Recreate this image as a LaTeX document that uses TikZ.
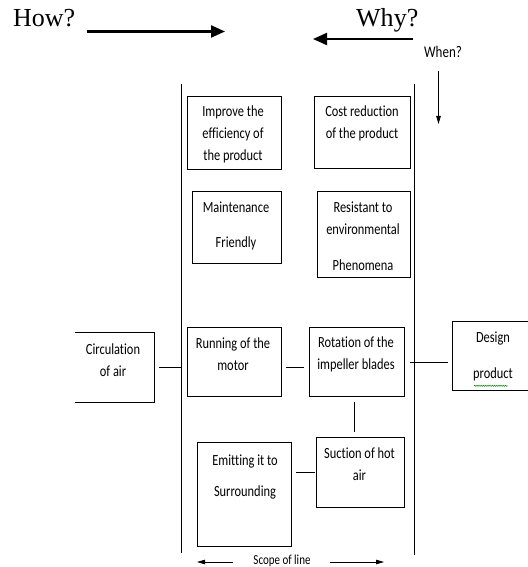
\documentclass[tikz,border=0pt]{standalone}
\usepackage{fontspec}
\usepackage{graphicx}
\setmainfont{Liberation Serif}
\newfontfamily\calfont[Ligatures=NoCommon]{Carlito}
\usetikzlibrary{arrows.meta,decorations.pathmorphing}
\newcommand{\stx}[1]{\scalebox{1}[1.25]{#1}}
\begin{document}
\begin{tikzpicture}[x=1pt,y=-1pt,
  box/.style={draw, line width=0.8pt, inner sep=0, rectangle},
  openbox/.style={inner sep=0, rectangle},
  txt/.style={font=\calfont\fontsize{12.4}{22}\selectfont, align=center, inner sep=0},
  big/.style={font=\fontsize{26}{30}\selectfont, inner sep=0},
  link/.style={line width=0.8pt},
  bigarrow/.style={line width=2.2pt, -{Triangle[length=14pt,width=12pt]}},
  smallarrow/.style={line width=0.8pt, -{Triangle[length=8pt,width=4.5pt]}}]
\useasboundingbox (0,0) rectangle (527,567);
\fill[white] (0,0) rectangle (527,567);

% header
\node[big, anchor=base west] (how) at (13,27) {How?};
\node[big, anchor=base west] (why) at (356,27) {Why?};
\node[txt, font=\calfont\fontsize{13}{15}\selectfont] (when) at (443,52) {\stx{When?}};
\coordinate (ha1) at (87,31.5);
\coordinate (ha2) at (225,31.5);
\coordinate (wa1) at (413,39);
\coordinate (wa2) at (313,39);
\coordinate (wh1) at (438.5,71);
\coordinate (wh2) at (438.5,124);
\draw[bigarrow] (ha1) -- (ha2);
\draw[bigarrow] (wa1) -- (wa2);
\draw[smallarrow] (wh1) -- (wh2);

% scope lines
\coordinate (L1) at (181,84);
\coordinate (L2) at (181,553);
\coordinate (R1) at (414,84);
\coordinate (R2) at (414,555);
\draw[link] (L1) -- (L2);
\draw[link] (R1) -- (R2);

% boxes
\node[box, minimum width=94, minimum height=73] (imp) at (234,132.5) {};
\node[txt] at (233,134) {\stx{Improve the}\\\stx{efficiency of}\\\stx{the product}};
\node[box, minimum width=96, minimum height=72] (cost) at (362,132) {};
\node[txt] at (362,123) {\stx{Cost reduction}\\\stx{of the product}};
\node[box, minimum width=89, minimum height=72] (maint) at (236.5,227) {};
\node[txt] at (236,225.5) {\stx{Maintenance}\\[13pt]\stx{Friendly}};
\node[box, minimum width=93, minimum height=86] (res) at (363.5,234) {};
\node[txt] at (363,236.5) {\stx{Resistant to}\\\stx{environmental}\\[14pt]\stx{Phenomena}};

\node[openbox, minimum width=79, minimum height=69] (circ) at (114.5,367.5) {};
\draw[link] (circ.north west) -- (circ.north east) -- (circ.south east) -- (circ.south west);
\node[txt] at (113,360) {\stx{Circulation}\\\stx{of air}};

\node[box, minimum width=94, minimum height=69] (run) at (234,361.5) {};
\node[txt] at (233,354) {\stx{Running of the}\\\stx{motor}};
\node[box, minimum width=95, minimum height=69] (rot) at (356.5,361.5) {};
\node[txt] at (356,354) {\stx{Rotation of the}\\\stx{impeller blades}};

\node[openbox, minimum width=77, minimum height=68] (des) at (491.5,356) {};
\draw[link] (des.north east) -- (des.north west) -- (des.south west) -- (des.south east);
\node[txt] (destxt) at (493,356) {\stx{Design}\\[14pt]\stx{product}};
\draw[green!55!black, line width=0.5pt, decorate, decoration={snake, amplitude=0.6pt, segment length=2.2pt}]
  ([xshift=-19pt,yshift=-5pt]destxt.south) -- ([xshift=15pt,yshift=-5pt]destxt.south);

\node[box, minimum width=94, minimum height=104] (emit) at (244,494) {};
\node[txt] at (245,476.5) {\stx{Emitting it to}\\[9pt]\stx{Surrounding}};
\node[box, minimum width=88, minimum height=70] (suc) at (360,472) {};
\node[txt] at (359.5,464.5) {\stx{Suction of hot}\\\stx{air}};

% connectors
\coordinate (cL) at (181,367);
\draw[link, shorten <=5pt] (circ.east |- cL) -- (cL);
\draw[link, shorten <=5pt, shorten >=5pt] (run.east |- 0,367) -- (rot.west |- 0,367);
\draw[link, shorten <=6pt, shorten >=5pt] (rot.east |- 0,362) -- (des.west |- 0,362);
\draw[link, shorten <=6pt, shorten >=5pt] (rot.south -| 354,0) -- (suc.north -| 354,0);
\draw[link, shorten <=5pt, shorten >=1pt] (emit.east |- 0,472) -- (suc.west |- 0,472);

% scope of line
\node[txt, font=\calfont\fontsize{11}{13}\selectfont] (scope) at (282,561) {\stx{Scope of line}};
\coordinate (sa1) at (233,562);
\coordinate (sa2) at (197,562);
\coordinate (sb1) at (330,562);
\coordinate (sb2) at (384,562);
\draw[smallarrow] (sa1) -- (sa2);
\draw[smallarrow] (sb1) -- (sb2);
\end{tikzpicture}
\end{document}
